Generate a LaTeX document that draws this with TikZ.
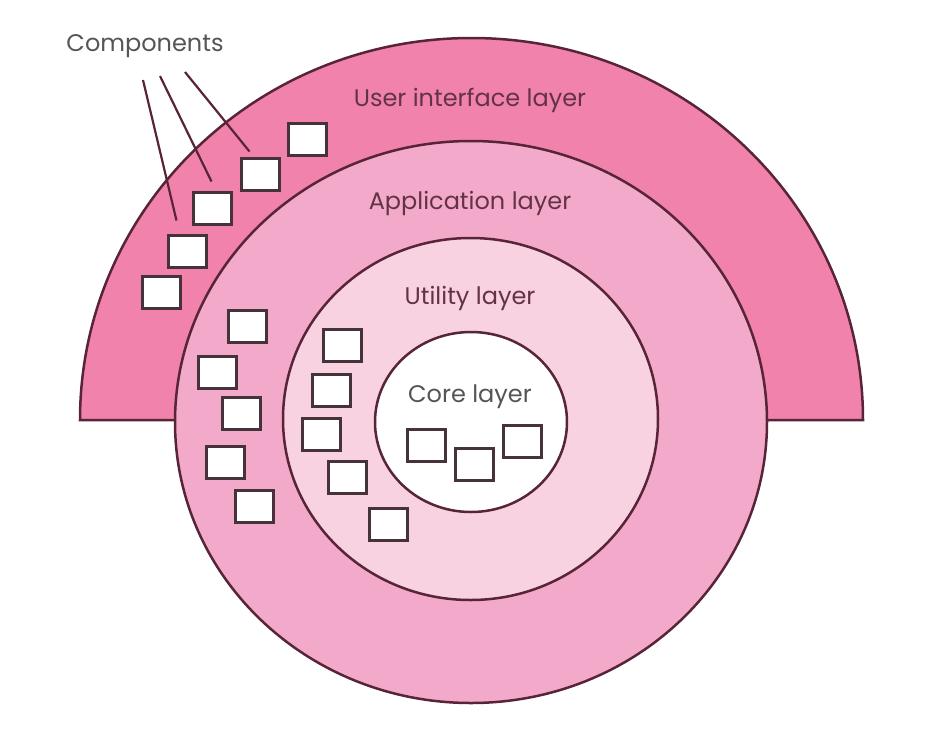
\documentclass[tikz,border=0pt]{standalone}
\usepackage{fontspec}
\setmainfont{Poppins}
\definecolor{uipink}{RGB}{240,130,172}
\definecolor{apppink}{RGB}{243,170,202}
\definecolor{utilpink}{RGB}{249,210,226}
\definecolor{edge}{RGB}{88,36,56}
\definecolor{boxedge}{RGB}{70,50,58}
\definecolor{labtext}{RGB}{100,50,72}
\definecolor{greytext}{RGB}{85,85,85}
\begin{document}
\begin{tikzpicture}[x=1pt,y=-1pt,
    layer/.style={draw=edge,line width=2.5pt},
    comp/.style={draw=boxedge,fill=white,line width=3pt,minimum width=38pt,minimum height=32pt,inner sep=0pt},
    lab/.style={text=labtext,font=\fontsize{24}{28}\selectfont},
    note/.style={text=greytext,font=\fontsize{24}{28}\selectfont}]
  \useasboundingbox (0,0) rectangle (930,732);
  % layers
  \draw[layer,fill=uipink] (80,420) arc[start angle=180,end angle=0,x radius=391.5pt,y radius=382pt] -- cycle;
  \draw[layer,fill=apppink] (471,422) ellipse[x radius=296pt,y radius=281pt];
  \draw[layer,fill=utilpink] (470.5,419) ellipse[x radius=187.5pt,y radius=181pt];
  \draw[layer,fill=white] (471,422) ellipse[x radius=96pt,y radius=90pt];
  % labels
  \node[lab] (uilab) at (470,100) {User interface layer};
  \node[lab] (applab) at (470,203) {Application layer};
  \node[lab] (utillab) at (470,298) {Utility layer};
  \node[note] (corelab) at (470,397) {Core layer};
  \node[note] (complab) at (145,46) {Components};
  % user interface components
  \node[comp] (u1) at (307,139) {};
  \node[comp] (u2) at (260,174) {};
  \node[comp] (u3) at (212,208) {};
  \node[comp] (u4) at (187,251) {};
  \node[comp] (u5) at (161,292) {};
  % application components
  \node[comp] (a1) at (247,326) {};
  \node[comp] (a2) at (217,372) {};
  \node[comp] (a3) at (241,413) {};
  \node[comp] (a4) at (225,462) {};
  \node[comp] (a5) at (254,506) {};
  % utility components
  \node[comp] (t1) at (342,345) {};
  \node[comp] (t2) at (331,390) {};
  \node[comp] (t3) at (321,434) {};
  \node[comp] (t4) at (347,477) {};
  \node[comp] (t5) at (388,524) {};
  % core components
  \node[comp] (c1) at (426,445) {};
  \node[comp] (c2) at (474,464) {};
  \node[comp] (c3) at (522,441) {};
  % pointers
  \coordinate (s1) at (143,80);
  \coordinate (s2) at (160,76);
  \coordinate (s3) at (185,72);
  \draw[edge,line width=2.2pt] (s1) -- ([shift={(10,-13)}]u4.north west);
  \draw[edge,line width=2.2pt] (s2) -- ([shift={(20,-9)}]u3.north west);
  \draw[edge,line width=2.2pt] (s3) -- ([shift={(10,-5)}]u2.north west);
\end{tikzpicture}
\end{document}
